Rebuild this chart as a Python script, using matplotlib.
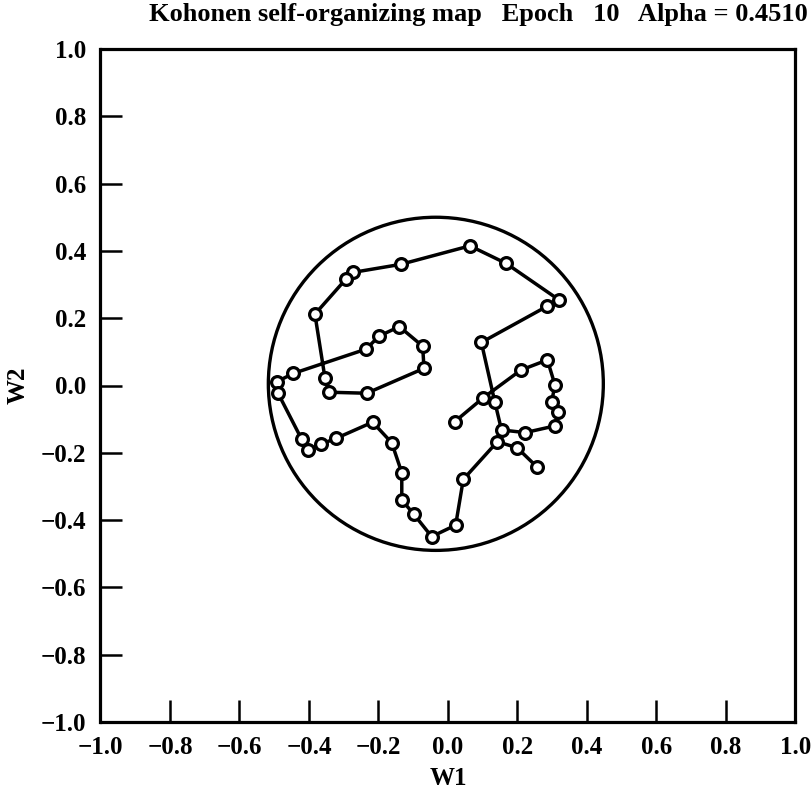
import matplotlib
matplotlib.use("Agg")
import matplotlib.pyplot as plt
from matplotlib.patches import Ellipse
import numpy as np

plt.rcParams['font.family'] = ['Liberation Serif', 'DejaVu Serif']
plt.rcParams['font.weight'] = 'bold'

# SOM node weights, in chain order
w1 = [0.020, 0.102, 0.210, 0.286, 0.308, 0.298, 0.317, 0.308, 0.222, 0.154,
      0.135, 0.096, 0.286, 0.320, 0.167, 0.063, -0.136, -0.274, -0.294, -0.383,
      -0.354, -0.342, -0.234, -0.069, -0.073, -0.140, -0.198, -0.236, -0.445, -0.493,
      -0.490, -0.421, -0.402, -0.365, -0.322, -0.217, -0.162, -0.133, -0.133, -0.098,
      -0.047, 0.022, 0.044, 0.142, 0.199, 0.255]
w2 = [-0.107, -0.036, 0.046, 0.076, 0.001, -0.048, -0.078, -0.120, -0.140, -0.132,
      -0.050, 0.128, 0.236, 0.254, 0.363, 0.415, 0.360, 0.336, 0.316, 0.212,
      0.022, -0.020, -0.023, 0.051, 0.117, 0.175, 0.147, 0.108, 0.036, 0.011,
      -0.021, -0.160, -0.192, -0.174, -0.157, -0.109, -0.170, -0.259, -0.340, -0.383,
      -0.449, -0.415, -0.279, -0.167, -0.185, -0.241]

circle_center = (-0.035, 0.005)
circle_rx, circle_ry = 0.482, 0.495

ticks = [-1.0, -0.8, -0.6, -0.4, -0.2, 0.0, 0.2, 0.4, 0.6, 0.8, 1.0]
tick_labels = ['\u22121.0', '\u22120.8', '\u22120.6', '\u22120.4', '\u22120.2',
               '0.0', '0.2', '0.4', '0.6', '0.8', '1.0']

fig = plt.figure(figsize=(8.12, 7.97), dpi=100)
ax = fig.add_axes([100.5/812, 1-722/797, 695/812, 673/797])

ax.add_patch(Ellipse(circle_center, 2*circle_rx, 2*circle_ry, fill=False,
                     edgecolor='black', linewidth=2.4))
ax.plot(w1, w2, '-', color='black', linewidth=2.5, marker='o', markersize=8.5,
        markerfacecolor='white', markeredgecolor='black', markeredgewidth=2.3)

ax.set_xlim(-1, 1)
ax.set_ylim(-1, 1)
ax.set_xticks(ticks)
ax.set_yticks(ticks)
ax.set_xticklabels(tick_labels)
ax.set_yticklabels(tick_labels)
ax.tick_params(direction='in', length=16, width=1.8, labelsize=18, pad=10,
               top=False, right=False)
for lab in ax.get_xticklabels() + ax.get_yticklabels():
    lab.set_fontweight('bold')
# hide tick marks at ends
for t in ax.xaxis.get_major_ticks()[::10] + ax.yaxis.get_major_ticks()[::10]:
    t.tick1line.set_visible(False)
for s in ax.spines.values():
    s.set_linewidth(2.3)

ax.set_xlabel('W1', fontsize=18, fontweight='bold', labelpad=6)
ax.set_ylabel('W2', fontsize=18, fontweight='bold', labelpad=8)

fig.text(478/812, 1-14/797,
         'Kohonen self-organizing map   Epoch   10   Alpha = 0.4510',
         ha='center', va='center', fontsize=19, fontweight='bold')

fig.savefig('out.png', dpi=100)
